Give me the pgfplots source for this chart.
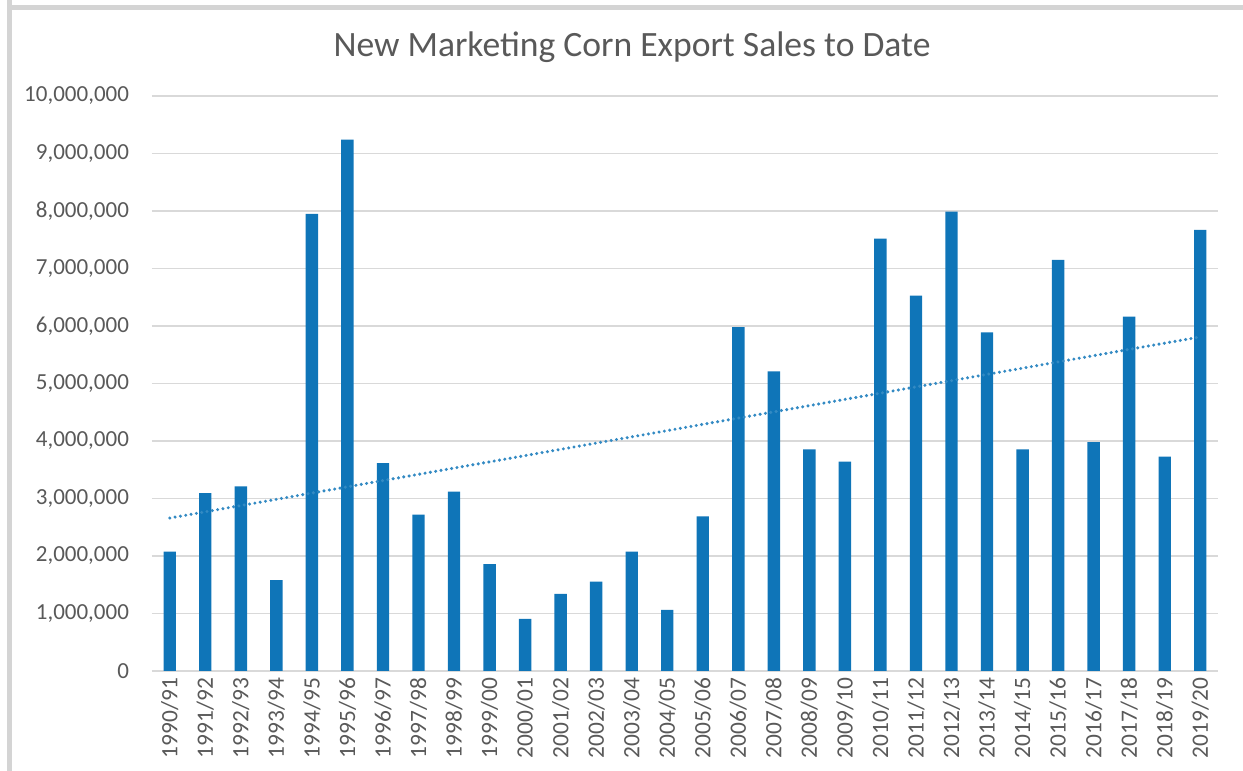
\documentclass[border=0pt]{standalone}
\usepackage{pgfplots}
\pgfplotsset{compat=1.18}
\usepackage{fontspec}
\setmainfont{Carlito}
\definecolor{barblue}{RGB}{15,117,184}
\definecolor{txtgray}{RGB}{89,89,89}
\definecolor{gridgray}{RGB}{217,217,217}
\definecolor{framegray}{RGB}{212,212,212}
\begin{document}
\begin{tikzpicture}
\path[use as bounding box] (-76pt,-50pt) rectangle (545.5pt,335.5pt);
\fill[framegray] (-72.5pt,-50pt) rectangle (-70pt,335.5pt);
\fill[framegray] (-72.5pt,330.5pt) rectangle (545.5pt,333pt);
\begin{axis}[
  at={(0,0)}, anchor=south west,
  scale only axis, width=533pt, height=287.5pt,
  xmin=-0.5, xmax=29.5, ymin=0, ymax=10000000,
  ytick={0,1000000,...,10000000},
  scaled y ticks=false,
  yticklabel style={font=\fontsize{11.5}{13}\selectfont, text=txtgray, xshift=-8pt,
    /pgf/number format/fixed, /pgf/number format/1000 sep={,}, /pgf/number format/assume math mode=true},
  xtick=data,
  xticklabels={1990/91,1991/92,1992/93,1993/94,1994/95,1995/96,1996/97,1997/98,1998/99,1999/00,2000/01,2001/02,2002/03,2003/04,2004/05,2005/06,2006/07,2007/08,2008/09,2009/10,2010/11,2011/12,2012/13,2013/14,2014/15,2015/16,2016/17,2017/18,2018/19,2019/20},
  xticklabel style={rotate=90, anchor=east, font=\fontsize{11.7}{13}\selectfont, text=txtgray},
  major tick length=0pt,
  ymajorgrids, grid style={gridgray, line width=0.6pt},
  axis x line*=bottom, axis y line*=left,
  x axis line style={gridgray, line width=0.6pt, -},
  y axis line style={draw=none},
  clip=false,
]
\addplot[ybar, bar width=6.2pt, fill=barblue, draw=none] coordinates {
(0,2076000) (1,3093000) (2,3210000) (3,1580000) (4,7950000) (5,9240000)
(6,3615000) (7,2720000) (8,3120000) (9,1860000) (10,907000) (11,1340000)
(12,1553000) (13,2076000) (14,1065000) (15,2687000) (16,5980000) (17,5210000)
(18,3856000) (19,3640000) (20,7520000) (21,6530000) (22,7990000) (23,5890000)
(24,3856000) (25,7150000) (26,3980000) (27,6165000) (28,3730000) (29,7670000)
};
\addplot[barblue!85, line width=1.7pt, line cap=round, dash pattern=on 0pt off 2.7pt, mark=none] coordinates {(0,2660000) (29,5810000)};
\end{axis}
\node[text=txtgray, font=\fontsize{17.8}{20}\selectfont] at (240pt,312pt) {New Marketing Corn Export Sales to Date};
\end{tikzpicture}
\end{document}
